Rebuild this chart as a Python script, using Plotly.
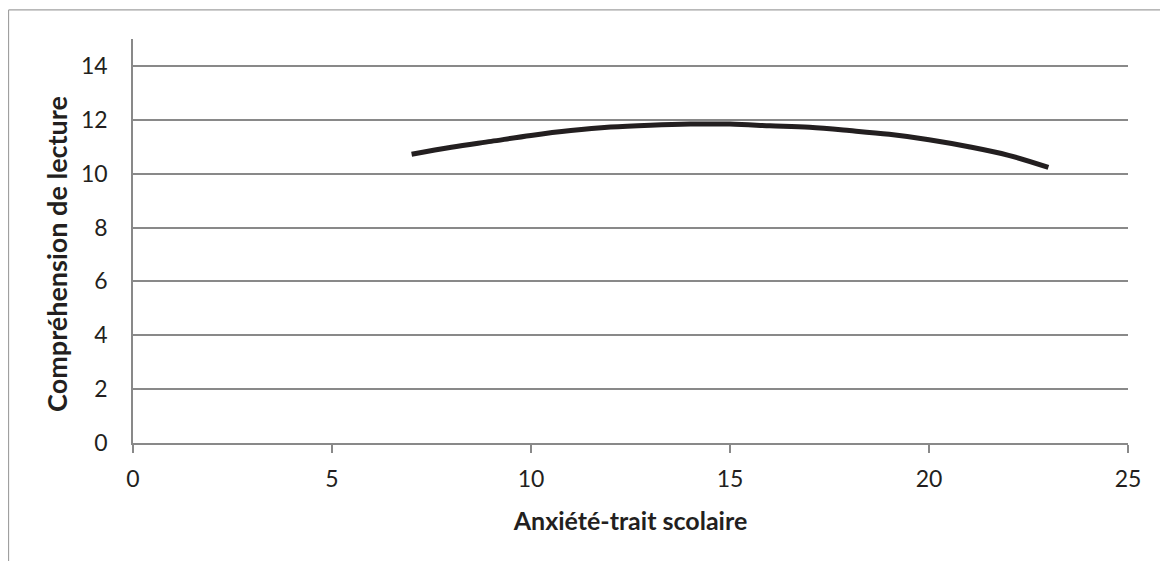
import plotly.graph_objects as go

# values
anxiete = [7, 8, 9, 10, 11, 12, 13, 14, 15, 16, 17, 18, 19, 20, 21, 22, 23]
comprehension = [10.72, 10.98, 11.2, 11.42, 11.6, 11.73, 11.8, 11.84, 11.84,
                 11.78, 11.72, 11.6, 11.46, 11.26, 11.0, 10.68, 10.23]
y_ticks = [0, 2, 4, 6, 8, 10, 12, 14]
x_ticks = [0, 5, 10, 15, 20, 25]

fig = go.Figure()
fig.add_trace(go.Scatter(
    x=anxiete,
    y=comprehension,
    mode='lines',
    line=dict(color='#231f20', width=5, shape='spline'),
    showlegend=False
))

# outer frame (only left and top edges visible in the picture)
fig.add_shape(type='line', xref='paper', yref='paper',
              x0=-0.1251, x1=1.06, y0=1.072, y1=1.072,
              line=dict(color='#a0a0a0', width=1.2))
fig.add_shape(type='line', xref='paper', yref='paper',
              x0=-0.1251, x1=-0.1251, y0=-0.32, y1=1.072,
              line=dict(color='#a0a0a0', width=1.2))

# y title as annotation, it sits a bit below the plot centre in the original
fig.add_annotation(
    text='<b>Compréhension de lecture</b>',
    xref='paper', yref='paper',
    x=-0.0764, y=0.468,
    xanchor='center', yanchor='middle',
    textangle=-90,
    showarrow=False,
    font=dict(size=27)
)

# the page adds 8px of body margin, so the figure is 8px smaller
fig.update_layout(
    width=1160,
    height=553,
    margin=dict(l=125, r=40, t=30.5, b=117.5),
    plot_bgcolor='white',
    paper_bgcolor='white',
    font=dict(family='Lato', color='#231f20', size=23),
    xaxis=dict(
        range=[0, 25],
        tickvals=x_ticks,
        showgrid=False,
        zeroline=False,
        showline=True,
        linecolor='#898989',
        linewidth=1.5,
        ticks='outside',
        ticklen=8,
        tickwidth=1.5,
        tickcolor='#898989',
        ticklabelstandoff=7,
        tickfont=dict(size=23),
        title=dict(text='<b>Anxiété-trait scolaire</b>', font=dict(size=25), standoff=21),
    ),
    yaxis=dict(
        range=[0, 15],
        tickvals=y_ticks,
        showgrid=True,
        gridcolor='#898989',
        gridwidth=1.5,
        zeroline=False,
        showline=True,
        linecolor='#898989',
        linewidth=1.5,
        ticks='',
        ticklabelstandoff=19,
        tickfont=dict(size=23),
    ),
)

fig.write_html("out.html")
